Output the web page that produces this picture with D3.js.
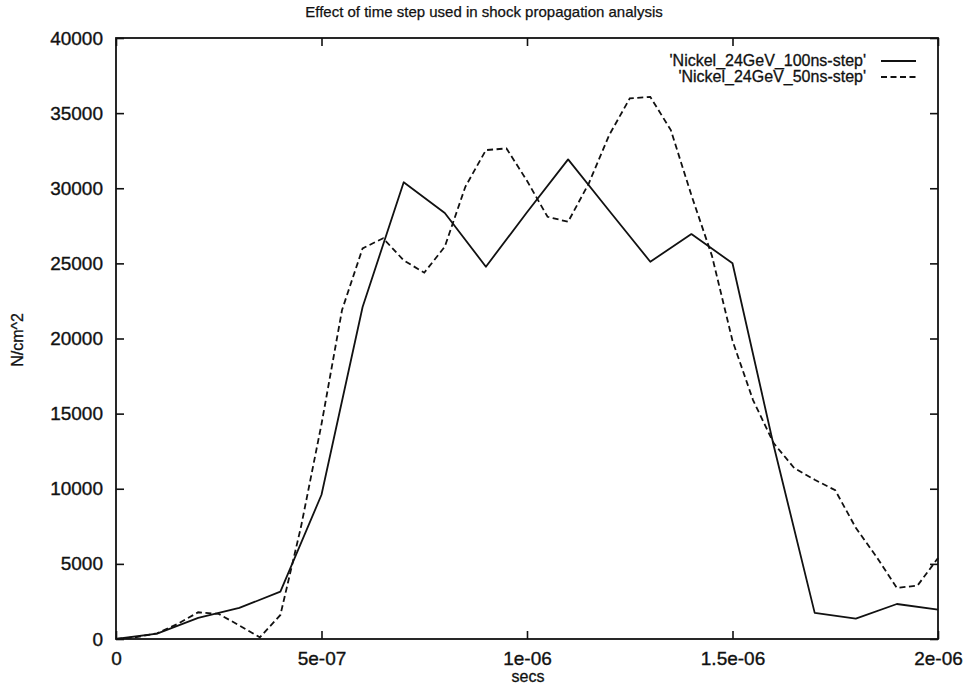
<!DOCTYPE html>
<html>
<head>
<meta charset="utf-8">
<script src="https://cdn.jsdelivr.net/npm/d3@7"></script>
<style>
  html, body { margin: 0; padding: 0; background: #fff; }
  svg { display: block; }
  text { font-family: "Liberation Sans", Arial, Helvetica, sans-serif; fill: #111; }
</style>
</head>
<body>
<svg id="chart" width="968" height="686"></svg>
<script>
// Time samples (seconds) for the 100 ns step run
const time100 = [0, 1e-7, 2e-7, 3e-7, 4e-7, 5e-7, 6e-7, 7e-7, 8e-7, 9e-7, 1e-6,
  1.1e-6, 1.2e-6, 1.3e-6, 1.4e-6, 1.5e-6, 1.6e-6, 1.7e-6, 1.8e-6, 1.9e-6, 2e-6];
// Pressure (N/cm^2), 100 ns step
const pressure100 = [0, 360, 1400, 2070, 3150, 9600, 22100, 30400, 28350, 24780, 28400,
  31920, 28500, 25110, 26950, 25010, 12900, 1740, 1360, 2330, 1950];

// Time samples (seconds) for the 50 ns step run
const time50 = [0, 0.5e-7, 1e-7, 1.5e-7, 2e-7, 2.5e-7, 3e-7, 3.5e-7, 4e-7, 4.5e-7,
  5e-7, 5.5e-7, 6e-7, 6.5e-7, 7e-7, 7.5e-7, 8e-7, 8.5e-7, 9e-7, 9.5e-7,
  1e-6, 1.05e-6, 1.1e-6, 1.15e-6, 1.2e-6, 1.25e-6, 1.3e-6, 1.35e-6, 1.4e-6, 1.45e-6,
  1.5e-6, 1.55e-6, 1.6e-6, 1.65e-6, 1.7e-6, 1.75e-6, 1.8e-6, 1.85e-6, 1.9e-6, 1.95e-6, 2e-6];
// Pressure (N/cm^2), 50 ns step
const pressure50 = [0, 120, 380, 1000, 1780, 1670, 900, 110, 1600, 7450,
  14300, 21900, 26000, 26670, 25200, 24380, 26110, 30100, 32540, 32650,
  30500, 28100, 27770, 30300, 33540, 35980, 36080, 33870, 29540, 25500,
  19850, 15900, 13040, 11380, 10600, 9900, 7400, 5480, 3400, 3550, 5390];

const seriesNames = ["'Nickel_24GeV_100ns-step'", "'Nickel_24GeV_50ns-step'"];

const xTickValues = [0, 5e-7, 1e-6, 1.5e-6, 2e-6];
const xTickLabels = ["0", "5e-07", "1e-06", "1.5e-06", "2e-06"];
const yTickValues = [0, 5000, 10000, 15000, 20000, 25000, 30000, 35000, 40000];
const yTickLabels = ["0", "5000", "10000", "15000", "20000", "25000", "30000", "35000", "40000"];

const titleText = "Effect of time step used in shock propagation analysis";
const xTitle = "secs";
const yTitle = "N/cm^2";

// Plot frame edges
const plotLeft = 116, plotRight = 938, plotTop = 38, plotBottom = 639;
const svg = d3.select("#chart");

const x = d3.scaleLinear().domain([0, 2e-6]).range([plotLeft, plotRight]);
const y = d3.scaleLinear().domain([0, 40000]).range([plotBottom, plotTop]);

const tickLen = 8;
const axisFont = "19px";

// Slightly heavier text, like a printed plot
function inked(sel, w) {
  sel.attr("stroke", "#111").attr("stroke-width", w).attr("paint-order", "stroke");
}

// Frame with inward ticks on all four sides
function styleAxis(g) {
  g.select(".domain").remove();
  g.selectAll(".tick line").attr("stroke", "#111").attr("stroke-width", 1.6);
}

svg.append("g")
  .attr("transform", `translate(0,${plotBottom})`)
  .call(d3.axisBottom(x).tickValues(xTickValues).tickSize(-tickLen).tickPadding(tickLen + 5)
    .tickFormat((d, i) => xTickLabels[i]))
  .call(styleAxis)
  .call(g => g.selectAll("text").style("font-size", axisFont).attr("fill", "#111").call(inked, 0.35));

svg.append("g")
  .attr("transform", `translate(0,${plotTop})`)
  .call(d3.axisTop(x).tickValues(xTickValues).tickSize(-tickLen).tickFormat(""))
  .call(styleAxis);

svg.append("g")
  .attr("transform", `translate(${plotLeft},0)`)
  .call(d3.axisLeft(y).tickValues(yTickValues).tickSize(-tickLen).tickPadding(tickLen + 5)
    .tickFormat((d, i) => yTickLabels[i]))
  .call(styleAxis)
  .call(g => g.selectAll("text").style("font-size", axisFont).attr("fill", "#111").call(inked, 0.35));

svg.append("g")
  .attr("transform", `translate(${plotRight},0)`)
  .call(d3.axisRight(y).tickValues(yTickValues).tickSize(-tickLen).tickFormat(""))
  .call(styleAxis);

svg.append("rect")
  .attr("x", plotLeft).attr("y", plotTop)
  .attr("width", plotRight - plotLeft).attr("height", plotBottom - plotTop)
  .attr("fill", "none").attr("stroke", "#111").attr("stroke-width", 1.8);

// Titles
svg.append("text")
  .attr("x", 484).attr("y", 17)
  .attr("text-anchor", "middle")
  .style("font-size", "15px")
  .call(inked, 0.25)
  .text(titleText);

svg.append("text")
  .attr("x", 528).attr("y", 682)
  .attr("text-anchor", "middle")
  .style("font-size", "16px")
  .call(inked, 0.3)
  .text(xTitle);

svg.append("text")
  .attr("transform", `translate(23,340) rotate(-90)`)
  .attr("text-anchor", "middle")
  .style("font-size", "16px")
  .call(inked, 0.3)
  .text(yTitle);

// Data lines
const line = d3.line().x(d => x(d[0])).y(d => y(d[1]));

const data100 = time100.map((t, i) => [t, pressure100[i]]);
const data50 = time50.map((t, i) => [t, pressure50[i]]);

svg.append("path")
  .datum(data100)
  .attr("d", line)
  .attr("fill", "none")
  .attr("stroke", "#111")
  .attr("stroke-width", 1.8)
  .attr("stroke-linejoin", "round");

svg.append("path")
  .datum(data50)
  .attr("d", line)
  .attr("fill", "none")
  .attr("stroke", "#111")
  .attr("stroke-width", 1.8)
  .attr("stroke-dasharray", "6,3.5");

// Legend
const legendRows = [
  { name: seriesNames[0], dash: null, yPos: 61 },
  { name: seriesNames[1], dash: "6,3.5", yPos: 77 }
];
const legend = svg.append("g");
legendRows.forEach(r => {
  legend.append("text")
    .attr("x", 866).attr("y", r.yPos + 5)
    .attr("text-anchor", "end")
    .style("font-size", "16px")
    .call(inked, 0.3)
    .text(r.name);
  legend.append("line")
    .attr("x1", 881).attr("x2", 916)
    .attr("y1", r.yPos).attr("y2", r.yPos)
    .attr("stroke", "#111").attr("stroke-width", 1.8)
    .attr("stroke-dasharray", r.dash);
});
</script>
</body>
</html>
